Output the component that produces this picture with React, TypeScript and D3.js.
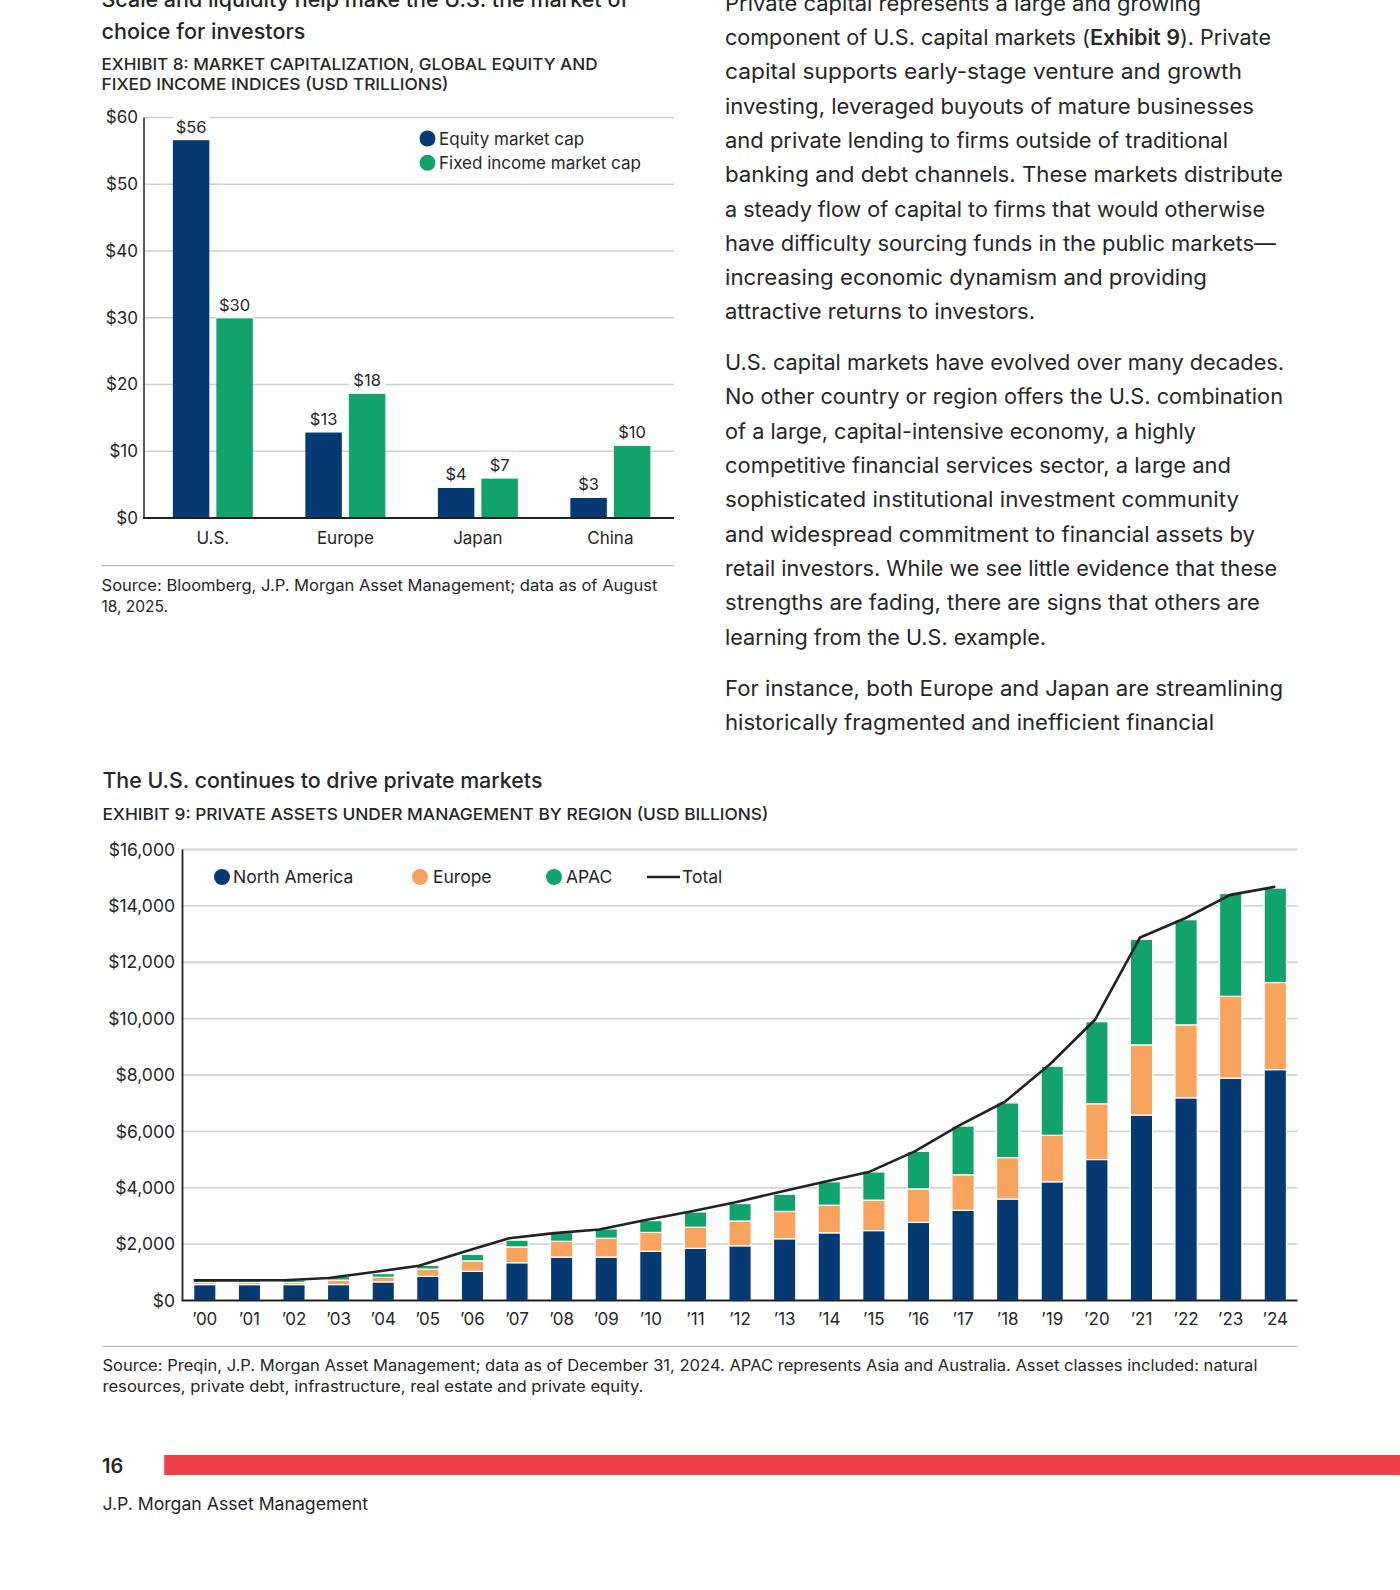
import React from 'react';
import * as d3 from 'd3';

const FONT = "Inter, 'Noto Sans', 'DejaVu Sans', sans-serif";
const INK = '#262626';
const NAVY = '#073A73';
const GREEN = '#12A36D';
const ORANGE = '#F8A35E';
const RED = '#EE4046';

// ---------- Exhibit 8 data ----------
const regions = ['U.S.', 'Europe', 'Japan', 'China'];
const equityCap = [56.6, 12.8, 4.5, 3.0];
const fixedIncomeCap = [29.9, 18.6, 5.9, 10.8];
const equityLabels = ['$56', '$13', '$4', '$3'];
const fixedIncomeLabels = ['$30', '$18', '$7', '$10'];
const capTicks = [0, 10, 20, 30, 40, 50, 60];

// ---------- Exhibit 9 data ----------
const years = ['00', '01', '02', '03', '04', '05', '06', '07', '08', '09', '10', '11', '12',
  '13', '14', '15', '16', '17', '18', '19', '20', '21', '22', '23', '24'];
const northAmerica = [565, 565, 565, 565, 660, 855, 1035, 1340, 1540, 1540, 1745, 1850, 1940,
  2190, 2400, 2480, 2770, 3200, 3600, 4210, 5000, 6580, 7190, 7890, 8190];
const europe = [75, 75, 75, 160, 165, 260, 370, 560, 560, 670, 670, 750, 880,
  970, 980, 1080, 1190, 1260, 1470, 1650, 1980, 2490, 2590, 2900, 3090];
const apac = [110, 105, 85, 125, 130, 130, 230, 240, 310, 330, 420, 540, 620,
  610, 830, 1000, 1330, 1730, 1940, 2450, 2910, 3740, 3730, 3650, 3350];
const total = [715, 715, 720, 800, 1010, 1230, 1730, 2210, 2390, 2520, 2850, 3150, 3480,
  3850, 4210, 4570, 5290, 6220, 7050, 8380, 9960, 12880, 13560, 14390, 14680];
const aumTicks = [0, 2000, 4000, 6000, 8000, 10000, 12000, 14000, 16000];

// ---------- Text ----------
const para1 = [
  'Private capital represents a large and growing',
  'component of U.S. capital markets (|Exhibit 9|). Private',
  'capital supports early-stage venture and growth',
  'investing, leveraged buyouts of mature businesses',
  'and private lending to firms outside of traditional',
  'banking and debt channels. These markets distribute',
  'a steady flow of capital to firms that would otherwise',
  'have difficulty sourcing funds in the public markets\u2014',
  'increasing economic dynamism and providing',
  'attractive returns to investors.',
];
const para1Widths = [476, 546, 517, 529, 503, 558, 540, 551, 482, 310];
const para2 = [
  'U.S. capital markets have evolved over many decades.',
  'No other country or region offers the U.S. combination',
  'of a large, capital-intensive economy, a highly',
  'competitive financial services sector, a large and',
  'sophisticated institutional investment community',
  'and widespread commitment to financial assets by',
  'retail investors. While we see little evidence that these',
  'strengths are fading, there are signs that others are',
  'learning from the U.S. example.',
];
const para2Widths = [559, 558, 471, 506, 514, 530, 552, 535, 321];
const para3 = [
  'For instance, both Europe and Japan are streamlining',
  'historically fragmented and inefficient financial',
];
const para3Widths = [558, 489];

function BodyLine({ text, x, y, w }: { text: string; x: number; y: number; w: number }) {
  const parts = text.split('|');
  return (
    <text x={x} y={y} fontSize={21} fill={INK} textLength={w} lengthAdjust="spacingAndGlyphs">
      {parts.map((p, i) => (
        <tspan key={i} fontWeight={i % 2 === 1 ? 600 : 400}>{p}</tspan>
      ))}
    </text>
  );
}

function Exhibit8() {
  const left = 144, right = 674, top = 117.5, bottom = 518;
  const x = d3.scaleBand<string>().domain(regions).range([left + 2.6, right + 2.6]).paddingInner(0).paddingOuter(0);
  const y = d3.scaleLinear().domain([0, 60]).range([bottom, top]);
  const barW = 36.5, gap = 7;
  const series = [
    { vals: equityCap, labels: equityLabels, color: NAVY, off: -gap / 2 - barW },
    { vals: fixedIncomeCap, labels: fixedIncomeLabels, color: GREEN, off: gap / 2 },
  ];
  return (
    <g>
      {capTicks.map((t) => (
        <g key={t}>
          {t > 0 && <line x1={left} x2={right} y1={y(t)} y2={y(t)} stroke="#cfcfcf" strokeWidth={1.3} />}
          <text x={138} y={y(t)} dy="0.35em" textAnchor="end" fontSize={17} fill={INK}>${t}</text>
        </g>
      ))}
      {series.map((s, si) =>
        regions.map((r, i) => {
          const cx = (x(r) as number) + x.bandwidth() / 2 + s.off;
          const yt = y(s.vals[i]);
          return (
            <g key={si + '-' + r}>
              <rect x={cx} y={yt - 27} width={barW} height={27} fill="#fff" />
              <rect x={cx} y={yt} width={barW} height={bottom - yt} fill={s.color} />
              <text x={cx + barW / 2} y={yt - 7.5} textAnchor="middle" fontSize={16.5} fill={INK}>{s.labels[i]}</text>
            </g>
          );
        })
      )}
      <line x1={left} x2={left} y1={top} y2={bottom} stroke="#333" strokeWidth={1.6} />
      <line x1={left - 1} x2={right} y1={bottom} y2={bottom} stroke="#222" strokeWidth={2} />
      {regions.map((r) => (
        <text key={r} x={(x(r) as number) + x.bandwidth() / 2} y={544} textAnchor="middle" fontSize={17} fill={INK}>{r}</text>
      ))}
      {/* legend */}
      <circle cx={427.5} cy={138.5} r={8} fill={NAVY} />
      <text x={439} y={144.5} fontSize={17} fill={INK}>Equity market cap</text>
      <circle cx={427.5} cy={162.8} r={8} fill={GREEN} />
      <text x={439} y={168.8} fontSize={17} fill={INK}>Fixed income market cap</text>
      {/* source */}
      <line x1={101.5} x2={674} y1={565.7} y2={565.7} stroke="#bbb" strokeWidth={1.3} />
      <text x={101.5} y={591} fontSize={15.5} fill={INK} textLength={556} lengthAdjust="spacingAndGlyphs">
        Source: Bloomberg, J.P. Morgan Asset Management; data as of August
      </text>
      <text x={101.5} y={611.5} fontSize={15.5} fill={INK}>18, 2025.</text>
    </g>
  );
}

function Exhibit9() {
  const left = 182.5, right = 1297.6, top = 849.5, bottom = 1300.5;
  const x = d3.scaleBand<string>().domain(years).range([left, right]).paddingInner(0.5).paddingOuter(0.25);
  const y = d3.scaleLinear().domain([0, 16000]).range([bottom, top]);
  const rows = years.map((yr, i) => ({ year: yr, na: northAmerica[i], eu: europe[i], ap: apac[i] }));
  const stack = d3.stack<any>().keys(['na', 'eu', 'ap'])(rows);
  const colors: Record<string, string> = { na: NAVY, eu: ORANGE, ap: GREEN };
  const bw = x.bandwidth();
  const px = d3.scalePoint<string>().domain(years).range([x(years[0]) as number, (x(years[years.length - 1]) as number) + bw / 2]);
  const line = d3.line<number>().x((_, i) => px(years[i]) as number).y((d) => y(d));
  const fmt = d3.format(',');
  return (
    <g>
      {aumTicks.map((t) => (
        <g key={t}>
          {t > 0 && <line x1={left} x2={right} y1={y(t)} y2={y(t)} stroke="#d6d6d6" strokeWidth={1.8} />}
          <text x={175} y={y(t)} dy="0.35em" textAnchor="end" fontSize={17.5} fill={INK}>${fmt(t)}</text>
        </g>
      ))}
      {stack.map((layer) => (
        <g key={layer.key} fill={colors[layer.key]}>
          {layer.map((d, i) => (
            <rect key={i} x={x(years[i])} y={y(d[1])} width={bw} height={y(d[0]) - y(d[1])}
              stroke="#ffffff" strokeWidth={1.2} />
          ))}
        </g>
      ))}
      <path d={line(total) || ''} fill="none" stroke="#222" strokeWidth={2.6} strokeLinejoin="round" />
      <line x1={left} x2={left} y1={top} y2={bottom} stroke="#222" strokeWidth={1.8} />
      <line x1={left - 1} x2={right} y1={bottom} y2={bottom} stroke="#222" strokeWidth={2} />
      {years.map((yr) => (
        <text key={yr} x={(x(yr) as number) + bw / 2} y={1325} textAnchor="middle" fontSize={17} fill={INK}>{'\u2019' + yr}</text>
      ))}
      {/* legend */}
      <circle cx={222} cy={877} r={8} fill={NAVY} />
      <text x={233} y={883} fontSize={17.5} fill={INK}>North America</text>
      <circle cx={420} cy={877} r={8} fill={ORANGE} />
      <text x={433} y={883} fontSize={17.5} fill={INK}>Europe</text>
      <circle cx={554} cy={877} r={8} fill={GREEN} />
      <text x={566} y={883} fontSize={17.5} fill={INK}>APAC</text>
      <line x1={647} x2={680} y1={877} y2={877} stroke="#222" strokeWidth={2.6} />
      <text x={682} y={883} fontSize={17.5} fill={INK}>Total</text>
      {/* source */}
      <line x1={102.4} x2={1297.6} y1={1346.3} y2={1346.3} stroke="#bbb" strokeWidth={1.3} />
      <text x={102.4} y={1371} fontSize={15.5} fill={INK} textLength={1155} lengthAdjust="spacingAndGlyphs">
        Source: Preqin, J.P. Morgan Asset Management; data as of December 31, 2024. APAC represents Asia and Australia. Asset classes included: natural
      </text>
      <text x={102.4} y={1392} fontSize={15.5} fill={INK} textLength={541} lengthAdjust="spacingAndGlyphs">
        resources, private debt, infrastructure, real estate and private equity.
      </text>
    </g>
  );
}

export default function App() {
  return (
    <svg width={1400} height={1590} viewBox="0 0 1400 1590"
      style={{ position: 'absolute', left: 0, top: 0, display: 'block', background: '#fff' }}
      fontFamily={FONT}>
      <rect x={0} y={0} width={1400} height={1590} fill="#fff" />
      {/* Left column headings */}
      <text x={101.5} y={7} fontSize={21} fontWeight={500} fill={INK} textLength={527} lengthAdjust="spacingAndGlyphs">
        Scale and liquidity help make the U.S. the market of
      </text>
      <text x={101.5} y={39} fontSize={21} fontWeight={500} fill={INK} textLength={204} lengthAdjust="spacingAndGlyphs">
        choice for investors
      </text>
      <text x={101.5} y={70} fontSize={16.5} fontWeight={500} fill={INK} textLength={496} lengthAdjust="spacingAndGlyphs">
        EXHIBIT 8: MARKET CAPITALIZATION, GLOBAL EQUITY AND
      </text>
      <text x={101.5} y={90} fontSize={16.5} fontWeight={500} fill={INK} textLength={347} lengthAdjust="spacingAndGlyphs">
        FIXED INCOME INDICES (USD TRILLIONS)
      </text>
      <Exhibit8 />

      {/* Right column body text */}
      {para1.map((t, i) => <BodyLine key={'a' + i} text={t} x={725} y={10.7 + i * 34.3} w={para1Widths[i]} />)}
      {para2.map((t, i) => <BodyLine key={'b' + i} text={t} x={725} y={370 + i * 34.35} w={para2Widths[i]} />)}
      {para3.map((t, i) => <BodyLine key={'c' + i} text={t} x={725} y={695.7 + i * 34.3} w={para3Widths[i]} />)}

      {/* Exhibit 9 headings */}
      <text x={102.4} y={788} fontSize={21} fontWeight={500} fill={INK} textLength={440} lengthAdjust="spacingAndGlyphs">
        The U.S. continues to drive private markets
      </text>
      <text x={102.4} y={820} fontSize={16.5} fontWeight={500} fill={INK} textLength={666} lengthAdjust="spacingAndGlyphs">
        EXHIBIT 9: PRIVATE ASSETS UNDER MANAGEMENT BY REGION (USD BILLIONS)
      </text>
      <Exhibit9 />

      {/* Footer */}
      <text x={102} y={1473} fontSize={20} fontWeight={600} fill={INK}>16</text>
      <rect x={164.2} y={1455} width={1235.8} height={20} fill={RED} />
      <text x={102.4} y={1509.5} fontSize={17.5} fill={INK} textLength={265.6} lengthAdjust="spacingAndGlyphs">
        J.P. Morgan Asset Management
      </text>
    </svg>
  );
}
